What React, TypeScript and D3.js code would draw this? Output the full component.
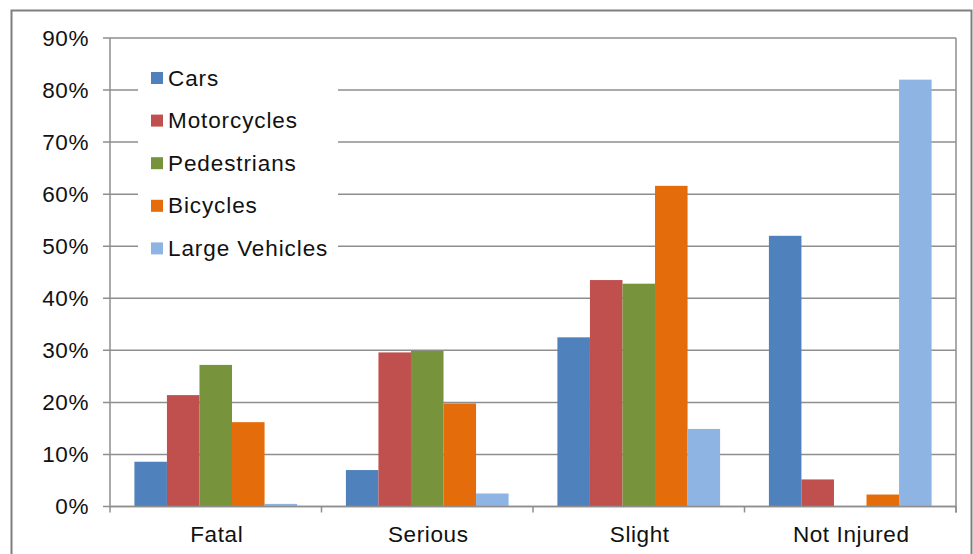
import React, { useEffect, useRef } from 'react';
import * as d3 from 'd3';

const categories = ['Fatal', 'Serious', 'Slight', 'Not Injured'];
const seriesNames = ['Cars', 'Motorcycles', 'Pedestrians', 'Bicycles', 'Large Vehicles'];
const seriesColors = ['#4F81BD', '#C0504D', '#77933C', '#E46C0A', '#8DB4E2'];

// percentages per category, in the order of categories
const cars = [8.6, 7.0, 32.5, 52.0];
const motorcycles = [21.4, 29.6, 43.5, 5.2];
const pedestrians = [27.2, 29.9, 42.8, 0];
const bicycles = [16.2, 19.8, 61.6, 2.3];
const largeVehicles = [0.5, 2.5, 14.9, 82.0];

const yTicks = [0, 10, 20, 30, 40, 50, 60, 70, 80, 90];

function App() {
  const svgRef = useRef() as React.RefObject<SVGSVGElement>;

  useEffect(() => {
    const width = 973;
    const height = 554;
    const margin = { top: 38, right: 17, bottom: 47.5, left: 110 };
    const font = '"Liberation Sans", Arial, sans-serif';
    const grid = '#8e8e8e';

    const svg = d3.select(svgRef.current)
      .attr('width', width)
      .attr('height', height);
    svg.selectAll('*').remove();

    const series = [cars, motorcycles, pedestrians, bicycles, largeVehicles];

    // outer frame
    svg.append('rect')
      .attr('x', 11.5).attr('y', 10.5)
      .attr('width', 960).attr('height', 570)
      .attr('fill', '#fff')
      .attr('stroke', '#7f7f7f').attr('stroke-width', 2);

    const x0 = d3.scaleBand()
      .domain(categories)
      .range([margin.left, width - margin.right])
      .paddingInner(0).paddingOuter(0);

    const bw = x0.bandwidth();
    const barW = bw / (seriesNames.length + 1.5);
    const x1 = d3.scaleBand()
      .domain(seriesNames)
      .range([barW * 0.75, bw - barW * 0.75])
      .padding(0);

    const y = d3.scaleLinear()
      .domain([0, 90])
      .range([height - margin.bottom, margin.top]);

    // gridlines + y ticks
    svg.append('g')
      .selectAll('line')
      .data(yTicks)
      .join('line')
      .attr('x1', margin.left - 7)
      .attr('x2', width - margin.right)
      .attr('y1', d => y(d))
      .attr('y2', d => y(d))
      .attr('stroke', grid)
      .attr('stroke-width', 1.5);

    svg.append('g')
      .selectAll('text')
      .data(yTicks)
      .join('text')
      .attr('x', margin.left - 21)
      .attr('y', d => y(d))
      .attr('text-anchor', 'end')
      .attr('dominant-baseline', 'central')
      .style('font-family', font)
      .style('font-size', '22.5px')
      .style('letter-spacing', '0.6px')
      .attr('fill', '#111')
      .text(d => d + '%');

    // bars
    const groups = svg.append('g')
      .selectAll('g')
      .data(categories)
      .join('g')
      .attr('transform', d => `translate(${x0(d)},0)`);

    groups.selectAll('rect')
      .data((c, ci) => seriesNames.map((s, si) => ({ s, v: series[si][ci], color: seriesColors[si] })))
      .join('rect')
      .attr('x', d => x1(d.s)!)
      .attr('width', x1.bandwidth())
      .attr('y', d => y(d.v))
      .attr('height', d => y(0) - y(d.v))
      .attr('fill', d => d.color);

    // axes lines
    svg.append('line')
      .attr('x1', margin.left).attr('x2', margin.left)
      .attr('y1', margin.top).attr('y2', y(0))
      .attr('stroke', grid).attr('stroke-width', 1.5);
    svg.append('line')
      .attr('x1', width - margin.right).attr('x2', width - margin.right)
      .attr('y1', margin.top).attr('y2', y(0) + 6)
      .attr('stroke', grid).attr('stroke-width', 1.5);
    svg.append('line')
      .attr('x1', margin.left).attr('x2', width - margin.right)
      .attr('y1', y(0)).attr('y2', y(0))
      .attr('stroke', grid).attr('stroke-width', 1.5);

    // category ticks
    const bounds = categories.map(c => x0(c)!).concat([width - margin.right]);
    svg.append('g')
      .selectAll('line')
      .data(bounds)
      .join('line')
      .attr('x1', d => d).attr('x2', d => d)
      .attr('y1', y(0)).attr('y2', y(0) + 6)
      .attr('stroke', grid).attr('stroke-width', 1.5);

    svg.append('g')
      .selectAll('text')
      .data(categories)
      .join('text')
      .attr('x', d => x0(d)! + bw / 2 + 1)
      .attr('y', 534)
      .attr('text-anchor', 'middle')
      .attr('dominant-baseline', 'central')
      .style('font-family', font)
      .style('font-size', '22.5px')
      .style('letter-spacing', '0.6px')
      .attr('fill', '#111')
      .text(d => d);

    // legend
    const legend = svg.append('g');
    legend.append('rect')
      .attr('x', 138).attr('y', 56)
      .attr('width', 200).attr('height', 212)
      .attr('fill', '#fff');

    const items = legend.selectAll('g.item')
      .data(seriesNames)
      .join('g')
      .attr('class', 'item')
      .attr('transform', (d, i) => `translate(151,${78 + i * 42.6})`);

    items.append('rect')
      .attr('x', 0).attr('y', -6)
      .attr('width', 12).attr('height', 12)
      .attr('fill', (d, i) => seriesColors[i]);

    items.append('text')
      .attr('x', 17)
      .attr('y', 0)
      .attr('dominant-baseline', 'central')
      .style('font-family', font)
      .style('font-size', '22.5px')
      .style('letter-spacing', '0.9px')
      .attr('fill', '#111')
      .text(d => d);
  }, []);

  return (
    <div style={{ position: 'absolute', left: 0, top: 0 }}>
      <svg ref={svgRef} style={{ display: 'block' }}></svg>
    </div>
  );
}

export default App;
